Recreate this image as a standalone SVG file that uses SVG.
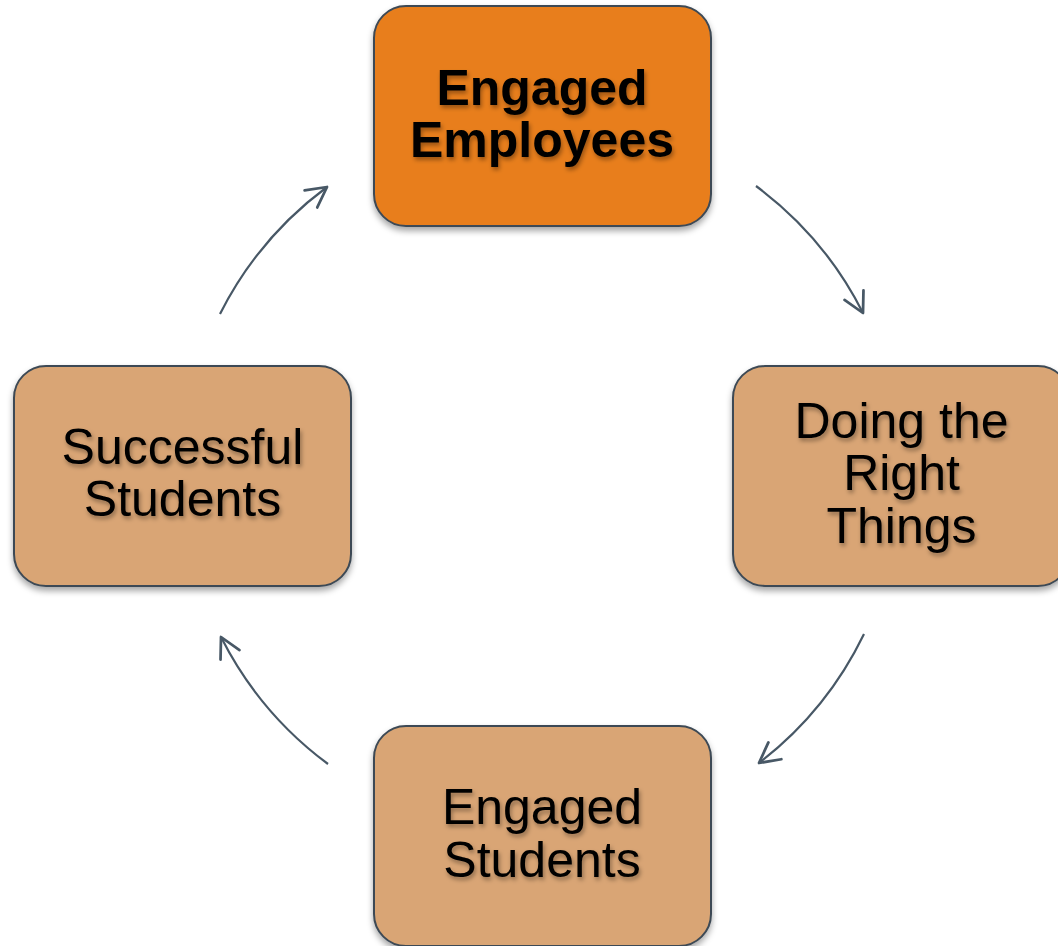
<svg xmlns="http://www.w3.org/2000/svg" width="1058" height="946" viewBox="0 0 1058 946">
<defs>
<filter id="boxShadow" x="-10%" y="-10%" width="120%" height="125%">
<feDropShadow dx="0" dy="4" stdDeviation="3" flood-color="#000" flood-opacity="0.35"/>
</filter>
<filter id="textShadow" x="-10%" y="-20%" width="120%" height="150%">
<feDropShadow dx="1.5" dy="3" stdDeviation="2" flood-color="#000" flood-opacity="0.35"/>
</filter>
<marker id="arrow" markerUnits="userSpaceOnUse" markerWidth="30" markerHeight="30" viewBox="-20 -12 24 24" refX="0" refY="0" orient="auto">
<path d="M-16,-8.5 L0,0 L-16,8.5" fill="none" stroke="#485866" stroke-width="2.2" stroke-linecap="round" stroke-linejoin="round"/>
</marker>
</defs>
<style>
.box{stroke:#3e4a55;stroke-width:2;filter:url(#boxShadow);}
.main{fill:#E87E1F;}
.sub{fill:#D9A574;}
.lbl{font-family:"Liberation Sans",Arial,sans-serif;font-size:50px;fill:#000;text-anchor:middle;filter:url(#textShadow);}
.bold{font-weight:bold;}
.conn{fill:none;stroke:#485866;stroke-width:2.2;marker-end:url(#arrow);}
</style>
<g id="connectors">
<path class="conn" d="M756,186 A360,360 0 0 1 863,313"/>
<path class="conn" d="M864,634 A360,360 0 0 1 759,763"/>
<path class="conn" d="M328,764 A360,360 0 0 1 221,637"/>
<path class="conn" d="M220,314 A360,360 0 0 1 327,187"/>
</g>
<g id="node-engaged-employees">
<rect class="box main" x="374" y="6" width="337" height="220" rx="32" ry="32"/>
<text class="lbl bold" x="542" y="105">Engaged</text>
<text class="lbl bold" x="542" y="157">Employees</text>
</g>
<g id="node-doing-right-things">
<rect class="box sub" x="733" y="366" width="337" height="220" rx="32" ry="32"/>
<text class="lbl" x="901.5" y="438">Doing the</text>
<text class="lbl" x="901.5" y="490">Right</text>
<text class="lbl" x="901.5" y="543">Things</text>
</g>
<g id="node-engaged-students">
<rect class="box sub" x="374" y="726" width="337" height="220" rx="32" ry="32"/>
<text class="lbl" x="542" y="824">Engaged</text>
<text class="lbl" x="542" y="877">Students</text>
</g>
<g id="node-successful-students">
<rect class="box sub" x="14" y="366" width="337" height="220" rx="32" ry="32"/>
<text class="lbl" x="182.5" y="464">Successful</text>
<text class="lbl" x="182.5" y="516">Students</text>
</g>
</svg>
